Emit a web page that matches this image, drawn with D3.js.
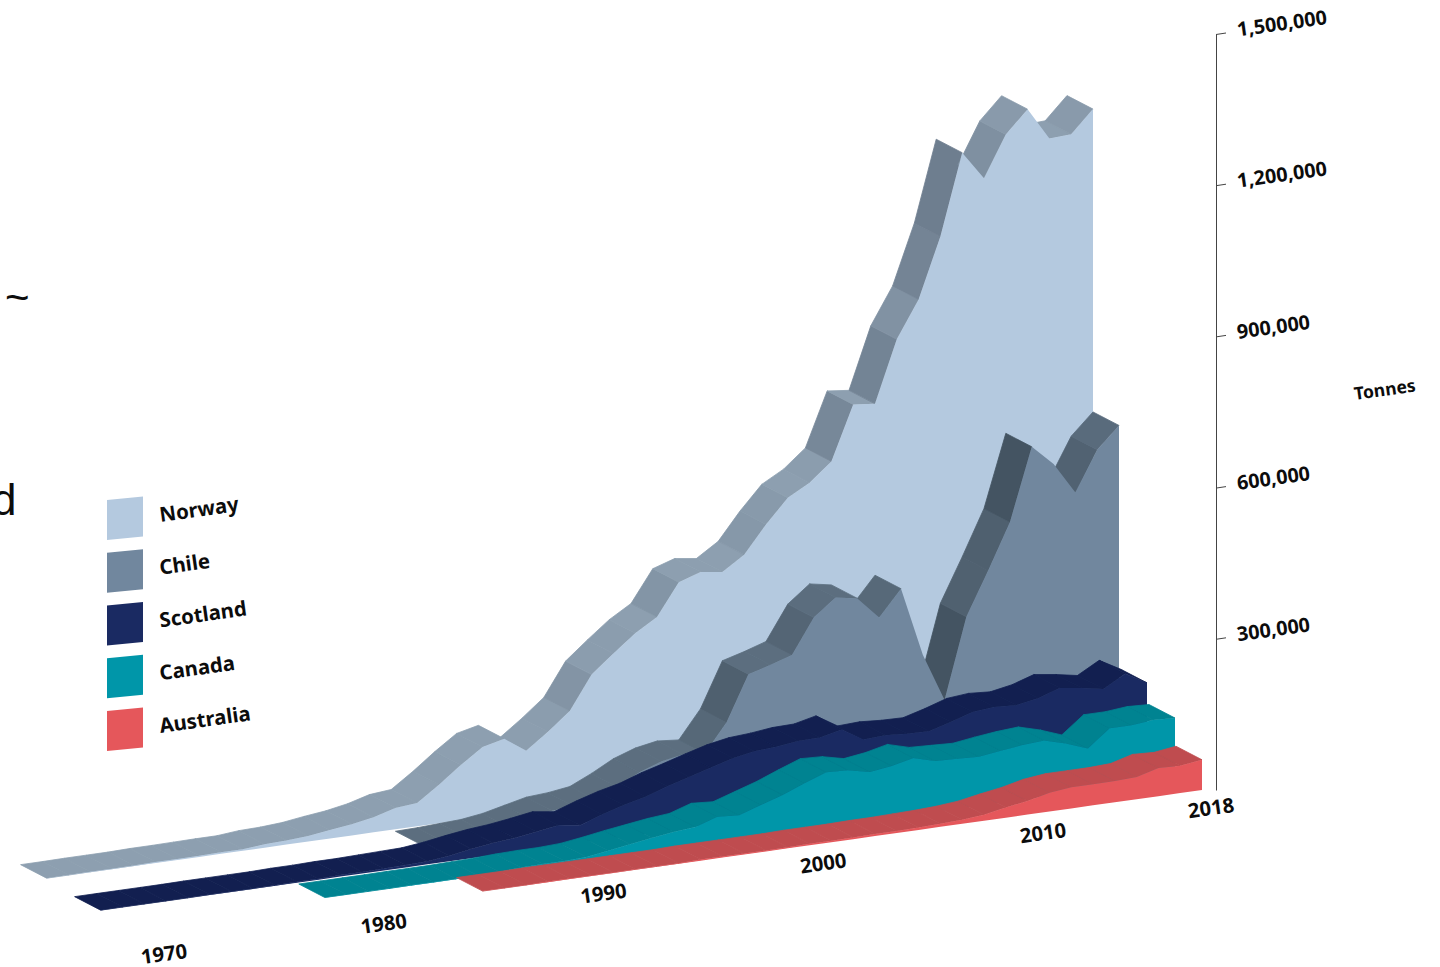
<!DOCTYPE html>
<html>
<head>
<meta charset="utf-8">
<title>Farmed salmon production by country</title>
<script src="https://cdn.jsdelivr.net/npm/d3@7"></script>
<style>
  html, body { margin: 0; padding: 0; background: #fff; }
  svg { display: block; }
  text { font-family: "Noto Sans", "Open Sans", sans-serif; font-weight: 700; fill: #0c0c0c; }
</style>
</head>
<body>
<svg id="chart" width="1440" height="967"></svg>
<script>
// Annual production in tonnes, 1970-2018; null means no production recorded yet.
const firstYear = 1970;
const lastYear = 2018;
const norway = [500,500,1000,1000,1000,2000,2000,2500,3000,3000,7000,8000,11000,17000,22000,30000,42000,46000,76000,109000,139000,149000,119000,151000,186000,252000,288000,322000,348000,411000,425000,419000,447000,501000,548000,572000,608000,715000,710000,832000,905000,1024000,1184000,1127000,1208000,1252000,1188000,1190000,1234000];
const chile = [null,null,null,null,null,null,null,null,null,null,null,null,null,null,null,null,1000,2000,4000,6000,12000,22000,32000,35000,41000,61000,84000,99000,107000,103000,159000,248000,260000,274000,342000,376000,368000,324000,375000,238000,142000,301000,387000,477000,620000,580000,517000,596000,638000];
const scotland = [500,500,500,500,500,1000,1000,1000,1000,2000,2000,3000,3000,4000,5000,6000,11000,18000,24000,28000,34000,41000,35000,50000,63000,73000,88000,100000,113000,125000,133000,136000,141000,142000,152000,126000,128000,125000,124000,136000,150000,154000,151000,159000,173000,167000,159000,183000,159000];
const canada = [null,null,null,null,null,null,null,null,null,500,500,500,500,1000,1000,1000,2000,3000,5000,6000,6000,8000,14000,21000,27000,33000,37000,51000,48000,62000,76000,93000,109000,107000,97000,103000,113000,101000,99000,97000,103000,108000,111000,99000,83000,117000,117000,121000,119000];
const australia = [null,null,null,null,null,null,null,null,null,null,null,null,null,null,null,500,500,500,1000,1000,1000,1000,1000,1000,1000,2000,2000,2000,2000,2000,3000,3000,3000,4000,4000,5000,6000,8000,12000,20000,27000,37000,42000,42000,42000,44000,56000,54000,60000];

const seriesNames = ["Norway", "Chile", "Scotland", "Canada", "Australia"];
const seriesValues = [norway, chile, scotland, canada, australia];
const faceColors = ["#b4c9df", "#71879e", "#1a2a62", "#0096a9", "#e5575b"];
const ribbonFlat = ["#8d9fb0", "#5c6e7f", "#121f50", "#008391", "#bf4c4f"];
const ribbonSteep = ["#6e7e8f", "#445462", "#101c49", "#00707d", "#b04447"];

const yTicks = [300000, 600000, 900000, 1200000, 1500000];
const yearLabels = [1970, 1980, 1990, 2000, 2010, 2018];

const svg = d3.select("#chart");

// Oblique projection: each series sits on its own baseline, stepped forward by depth.
const depthX = d3.scaleLinear().domain([0, 1, 2, 3, 4]).range([1093, 1119, 1147, 1175, 1202]);
const depthY = d3.scaleLinear().domain([0, 1, 2, 3, 4]).range([731, 747, 763, 778, 790]);
const yearRun = d3.scaleLinear().domain([firstYear, lastYear]).range([-1046.4, 0]);
const yearRise = d3.scaleLinear().domain([firstYear, lastYear]).range([147.4, 0]);
const height = d3.scaleLinear().domain([0, 1500000]).range([0, 756]);
const ribbonDepth = { x: -26, y: -13.5 };

const baseX = (d, year) => depthX(d) + yearRun(year);
const baseY = (d, year) => depthY(d) + yearRise(year);

const polygon = d3.line().x(p => p.x).y(p => p.y).curve(d3.curveLinearClosed);

// Steeper climbs catch less light; gentle slopes all share the flat colour.
const steepness = d3.scaleLinear().domain([-0.8, -3.4]).range([0, 1]).clamp(true);

seriesValues.forEach((values, depth) => {
  const points = values
    .map((v, i) => ({ year: firstYear + i, value: v }))
    .filter(p => p.value !== null)
    .map(p => ({
      x: baseX(depth, p.year),
      base: baseY(depth, p.year),
      top: baseY(depth, p.year) - height(p.value)
    }));

  const layer = svg.append("g").attr("class", "series series-" + depth);
  const shade = d3.interpolateRgb(ribbonFlat[depth], ribbonSteep[depth]);

  // Upper surface, one quad per year; quads turned away from the viewer are left out.
  const quads = d3.pairs(points)
    .map(([a, b]) => ({ a, b, slope: (b.top - a.top) / (b.x - a.x) }))
    .filter(q => q.slope * ribbonDepth.x * -1 < -ribbonDepth.y);

  layer.selectAll("path.ribbon")
    .data(quads)
    .join("path")
    .attr("class", "ribbon")
    .attr("d", q => polygon([
      { x: q.a.x, y: q.a.top },
      { x: q.b.x, y: q.b.top },
      { x: q.b.x + ribbonDepth.x, y: q.b.top + ribbonDepth.y },
      { x: q.a.x + ribbonDepth.x, y: q.a.top + ribbonDepth.y }
    ]))
    .attr("fill", q => shade(steepness(q.slope)))
    .attr("stroke", q => shade(steepness(q.slope)))
    .attr("stroke-width", 0.8)
    .attr("stroke-linejoin", "round");

  // Front face between the baseline and the yearly value.
  const area = d3.area().x(p => p.x).y0(p => p.base).y1(p => p.top);
  layer.append("path")
    .attr("class", "face")
    .attr("d", area(points))
    .attr("fill", faceColors[depth]);
});

// Vertical value axis with slightly tilted ticks and labels.
const yScale = d3.scaleLinear().domain([0, 1500000]).range([790, 34]);
const yAxis = d3.axisRight(yScale)
  .tickValues(yTicks)
  .tickSize(10)
  .tickSizeOuter(0)
  .tickFormat(d3.format(","));

const yGroup = svg.append("g").attr("transform", "translate(1216,0)").call(yAxis);
yGroup.select(".domain").attr("stroke", "#444").attr("stroke-width", 1);
yGroup.selectAll(".tick line").attr("stroke", "#444").attr("y2", -1.5);
yGroup.selectAll(".tick text")
  .attr("x", null).attr("dy", null)
  .attr("transform", "translate(22,2) rotate(-8)")
  .attr("text-anchor", "start")
  .style("font-family", '"Noto Sans", sans-serif')
  .style("font-weight", 700)
  .style("font-size", "19.8px")
  .style("fill", "#0c0c0c");

svg.append("text")
  .attr("transform", "translate(1355,400) rotate(-8)")
  .style("font-size", "17.5px")
  .text("Tonnes");

// Year labels run along the front edge of the chart.
const labelX = d3.scaleLinear().domain([1970, 2010, 2018]).range([165, 1044, 1212]);
const labelY = d3.scaleLinear().domain([1970, 2010, 2018]).range([961, 840, 815]);
svg.selectAll("text.year")
  .data(yearLabels)
  .join("text")
  .attr("class", "year")
  .attr("text-anchor", "middle")
  .attr("transform", d => `translate(${labelX(d)},${labelY(d)}) rotate(-8)`)
  .style("font-size", "20.3px")
  .text(d => d);

// Legend with skewed swatches.
const legendY = d3.scaleLinear().domain([0, 4]).range([500, 711]);
const legendRows = svg.selectAll("g.legend")
  .data(seriesNames)
  .join("g")
  .attr("class", "legend")
  .attr("transform", (d, i) => `translate(107,${legendY(i)})`);
legendRows.append("rect")
  .attr("width", 36)
  .attr("height", 40)
  .attr("transform", "skewY(-5.5)")
  .attr("fill", (d, i) => faceColors[i]);
legendRows.append("text")
  .attr("transform", "translate(53.5,22) rotate(-8)")
  .style("font-size", "20.4px")
  .text(d => d);

// Fragments of running text at the left edge.
svg.append("text")
  .attr("x", 5).attr("y", 312)
  .style("font-family", '"Liberation Sans", sans-serif')
  .style("font-weight", 400)
  .style("font-size", "42px")
  .text("~");
svg.append("text")
  .attr("x", -8).attr("y", 515)
  .style("font-family", '"Liberation Sans", sans-serif')
  .style("font-weight", 400)
  .style("font-size", "44px")
  .text("d");
</script>
</body>
</html>
